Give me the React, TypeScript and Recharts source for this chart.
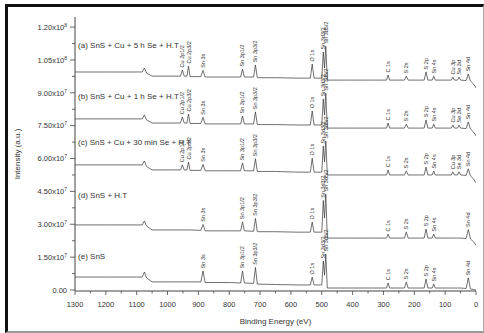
import { ComposedChart, Line, Scatter, XAxis, YAxis } from 'recharts';

const FONT = '"Liberation Sans", Arial, sans-serif';

// binding energy grid (eV), shared by all five spectra
const BE = [
  1300, 1200, 1100, 1082, 1075, 1068, 1050, 990, 958, 952,
  946, 937, 932, 927, 892, 885, 878, 800, 763, 757,
  751, 721, 715, 709, 650, 580, 537, 531, 525, 500,
  495, 491, 487, 482, 470, 420, 330, 290, 285, 280,
  232, 226, 220, 168, 162, 156, 142, 137, 132, 100,
  80, 75, 70, 60, 55, 50, 32, 25, 18, 8, 0,
];

// intensities in units of 10^6 counts
const SPEC_A = [
  99.5, 99.5, 99.5, 99.5, 101.3, 99.0, 97.6, 97.6, 97.6, 100.4,
  97.6, 97.6, 102.2, 97.4, 97.4, 100.2, 97.2, 97.2, 97.2, 100.8,
  97.2, 97.2, 102.7, 96.9, 96.9, 96.7, 96.7, 103.1, 96.7, 96.7,
  108.6, 101.3, 111.3, 95.8, 95.8, 95.8, 95.8, 95.8, 98.1, 95.8,
  95.8, 97.6, 95.8, 95.8, 99.5, 95.8, 95.8, 97.6, 95.8, 95.8,
  95.8, 97.2, 95.8, 95.8, 97.2, 95.8, 95.6, 98.6, 95.4, 94.0, 92.2,
];
const SPEC_B = [
  78.1, 78.1, 78.1, 78.1, 79.9, 77.6, 76.2, 76.2, 76.2, 79.0,
  76.2, 76.2, 80.3, 76.0, 76.0, 78.8, 75.8, 75.8, 75.8, 79.4,
  75.8, 75.8, 81.3, 75.5, 75.5, 75.3, 75.3, 81.7, 75.3, 75.3,
  87.2, 79.9, 89.9, 73.9, 73.9, 73.9, 73.9, 73.9, 76.2, 73.9,
  73.9, 75.7, 73.9, 73.9, 77.6, 73.9, 73.9, 75.7, 73.9, 73.9,
  73.9, 75.3, 73.9, 73.9, 75.3, 73.9, 73.7, 76.7, 73.5, 72.1, 70.3,
];
const SPEC_C = [
  57.1, 57.1, 57.1, 57.1, 58.9, 56.4, 54.8, 54.8, 54.8, 57.1,
  54.8, 54.8, 58.4, 54.6, 54.6, 57.3, 54.4, 54.4, 54.4, 58.0,
  54.4, 54.4, 59.9, 54.1, 54.1, 53.8, 53.8, 60.2, 53.8, 53.8,
  65.7, 58.4, 68.0, 52.5, 52.5, 52.5, 52.5, 52.5, 54.8, 52.5,
  52.5, 54.3, 52.5, 52.5, 56.1, 52.5, 52.5, 54.3, 52.5, 52.5,
  52.5, 53.9, 52.5, 52.5, 53.9, 52.5, 52.3, 55.3, 52.1, 50.7, 48.9,
];
const SPEC_D = [
  29.7, 29.7, 29.7, 29.7, 31.5, 29.2, 27.4, 27.4, 27.4, 27.4,
  27.4, 27.4, 27.4, 27.4, 27.2, 29.9, 27.0, 27.0, 27.0, 31.1,
  27.0, 26.8, 32.7, 26.6, 26.6, 26.4, 26.4, 31.0, 26.4, 26.4,
  40.9, 32.8, 43.8, 23.7, 23.7, 23.7, 23.7, 23.7, 25.5, 23.7,
  23.7, 26.4, 23.7, 23.7, 27.8, 23.7, 23.7, 25.5, 23.7, 23.7,
  23.7, 23.7, 23.7, 23.7, 23.7, 23.7, 23.5, 27.6, 23.3, 22.0, 20.5,
];
const SPEC_E = [
  5.9, 5.9, 5.9, 5.9, 8.2, 5.5, 3.7, 3.7, 3.7, 3.7,
  3.7, 3.7, 3.7, 3.7, 3.7, 8.7, 3.4, 3.4, 3.2, 8.7,
  3.2, 3.0, 10.3, 2.7, 2.5, 2.3, 2.3, 5.9, 2.3, 2.3,
  13.2, 6.8, 16.4, 0.9, 0.9, 0.9, 0.9, 0.9, 3.2, 0.9,
  0.9, 3.6, 0.9, 0.9, 5.0, 0.9, 0.9, 2.7, 0.9, 0.9,
  0.9, 0.9, 0.9, 0.9, 0.9, 0.9, 0.7, 5.5, 0.5, 0.2, 0.0,
];

const SERIES_NAMES = [
  '(a) SnS + Cu + 5 h Se + H.T',
  '(b) SnS + Cu + 1 h Se + H.T',
  '(c) SnS + Cu + 30 min Se + H.T',
  '(d) SnS + H.T',
  '(e) SnS',
];
const SERIES_LABEL_V = [111.8, 88.5, 67.5, 43.3, 15.5];
const SERIES_LABEL_BE = 1290;

const PEAK_BE = [952, 932, 885, 757, 715, 531, 495, 487, 285, 226, 162, 137, 75, 55, 25];
const PEAK_NAMES = [
  'Cu 2p1/2', 'Cu 2p3/2', 'Sn 3s', 'Sn 3p1/2', 'Sn 3p3/2', 'O 1s', 'Sn 3d3/2', 'Sn 3d5/2',
  'C 1s', 'S 2s', 'S 2p', 'Sn 4s', 'Cu 3p', 'Se 3d', 'Sn 4d',
];
const CU_PEAKS = [952, 932, 75, 55];

const X_TICKS = Array.from({ length: 27 }, (_, i) => i * 50);
const Y_TICKS = Array.from({ length: 17 }, (_, i) => i * 7.5);

const SPECTRA = [SPEC_A, SPEC_B, SPEC_C, SPEC_D, SPEC_E];
const series = SPECTRA.map((vals) => BE.map((be, i) => ({ be, v: vals[i] })));

const annotations = SPECTRA.flatMap((vals, s) =>
  PEAK_BE.filter((be) => s < 3 || !CU_PEAKS.includes(be)).map((be) => ({
    be,
    v: vals[BE.indexOf(be)] + 1.2,
    text: PEAK_NAMES[PEAK_BE.indexOf(be)],
  })),
);

const seriesLabels = SERIES_NAMES.map((text, i) => ({ be: SERIES_LABEL_BE, v: SERIES_LABEL_V[i], text }));

function XTick({ x, y, payload }: any) {
  const v = payload.value;
  const major = v % 100 === 0;
  return (
    <g>
      <line x1={x} x2={x} y1={y} y2={y + (major ? 4 : 2.5)} stroke="#444" strokeWidth={0.8} />
      {major && (
        <text x={x} y={y + 16} textAnchor="middle" fontSize={7.5} fill="#333" fontFamily={FONT}>
          {v}
        </text>
      )}
    </g>
  );
}

function YTick({ x, y, payload }: any) {
  const v = payload.value;
  const major = Math.round(v * 10) % 150 === 0;
  let label: any = null;
  if (major) {
    if (v === 0) {
      label = '0.00';
    } else {
      const n = v * 1e6;
      const e = Math.floor(Math.log10(n) + 1e-9);
      const m = (n / Math.pow(10, e)).toFixed(2);
      label = (
        <>
          {m}x10<tspan dy={-3} fontSize={5}>{e}</tspan>
        </>
      );
    }
  }
  return (
    <g>
      <line x1={x - (major ? 5 : 3)} x2={x} y1={y} y2={y} stroke="#444" strokeWidth={0.8} />
      {label && (
        <text x={x - 8} y={y + 2.7} textAnchor="end" fontSize={7.5} fill="#333" fontFamily={FONT}>
          {label}
        </text>
      )}
    </g>
  );
}

const AnnShape = ({ cx, cy, payload }: any) => (
  <text
    x={cx}
    y={cy}
    dy={2}
    transform={`rotate(-90 ${cx} ${cy})`}
    fontSize={5.5}
    fill="#333"
    fontFamily={FONT}
  >
    {payload.text}
  </text>
);

const NameShape = ({ cx, cy, payload }: any) => (
  <text x={cx} y={cy + 2.8} fontSize={8} fill="#333" fontFamily={FONT}>
    {payload.text}
  </text>
);

const yTitle = (p: any) => {
  const vb = p.viewBox || { y: 17, height: 274 };
  const cx = 17;
  const cy = vb.y + vb.height / 2;
  return (
    <text x={cx} y={cy} transform={`rotate(-90 ${cx} ${cy})`} textAnchor="middle" dy={3} fontSize={8} fill="#333" fontFamily={FONT}>
      Intensity (a.u.)
    </text>
  );
};

const xTitle = (p: any) => {
  const vb = p.viewBox || { x: 75, width: 401, y: 291 };
  return (
    <text x={vb.x + vb.width / 2} y={vb.y + 33} textAnchor="middle" fontSize={8} fill="#333" fontFamily={FONT}>
      Binding Energy (eV)
    </text>
  );
};

export default function App() {
  return (
    <div style={{ position: 'absolute', left: 0, top: 0, width: 484, height: 333, background: '#fff', overflow: 'hidden' }}>
      <div
        style={{
          position: 'absolute',
          left: 5,
          top: 4,
          width: 479,
          height: 329,
          boxSizing: 'border-box',
          borderLeft: '3px solid #111',
          borderTop: '3px solid #111',
          borderRight: '1px solid #aaa',
          borderBottom: '2px solid #999',
        }}
      />
      <div style={{ position: 'absolute', left: 0, top: 0 }}>
        <ComposedChart width={484} height={333} margin={{ top: 17, right: 8, bottom: 6, left: 0 }}>
          <XAxis
            xAxisId="b"
            type="number"
            dataKey="be"
            domain={[0, 1300]}
            reversed
            allowDataOverflow
            ticks={X_TICKS}
            interval={0}
            tick={<XTick />}
            tickLine={false}
            tickSize={0}
            tickMargin={0}
            height={36}
            stroke="#444"
            label={xTitle}
          />
          <XAxis
            xAxisId="t"
            orientation="top"
            type="number"
            dataKey="be"
            domain={[0, 1300]}
            reversed
            height={0}
            tick={false}
            tickLine={false}
            stroke="#777"
            strokeWidth={1.5}
          />
          <YAxis
            yAxisId="l"
            type="number"
            domain={[-0.46, 124.6]}
            allowDataOverflow
            ticks={Y_TICKS}
            interval={0}
            tick={<YTick />}
            tickLine={false}
            tickSize={0}
            tickMargin={0}
            width={75}
            stroke="#444"
            label={yTitle}
          />
          <YAxis
            yAxisId="r"
            orientation="right"
            type="number"
            domain={[-0.46, 124.6]}
            width={0}
            tick={false}
            tickLine={false}
            stroke="#777"
            strokeWidth={1.5}
          />
          {series.map((d, i) => (
            <Line
              key={i}
              xAxisId="b"
              yAxisId="l"
              data={d}
              dataKey="v"
              type="linear"
              dot={false}
              stroke="#333"
              strokeWidth={0.7}
              isAnimationActive={false}
            />
          ))}
          <Scatter xAxisId="b" yAxisId="l" data={annotations} dataKey="v" shape={AnnShape} isAnimationActive={false} />
          <Scatter xAxisId="b" yAxisId="l" data={seriesLabels} dataKey="v" shape={NameShape} isAnimationActive={false} />
        </ComposedChart>
      </div>
    </div>
  );
}
